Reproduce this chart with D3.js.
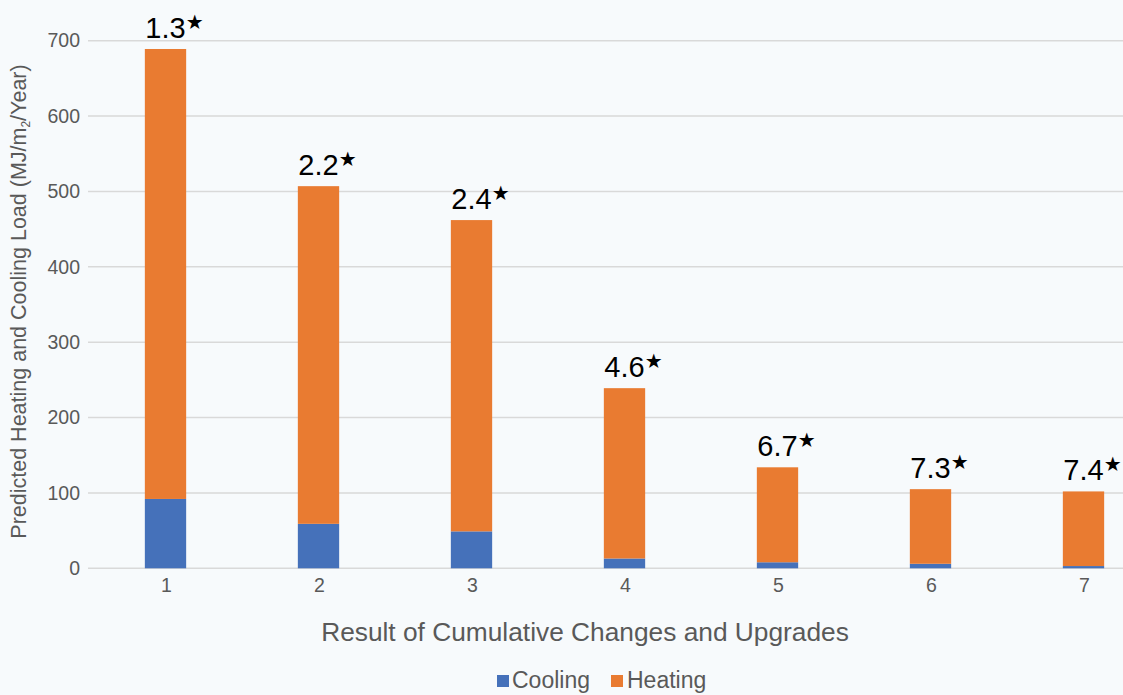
<!DOCTYPE html>
<html>
<head>
<meta charset="utf-8">
<script src="https://cdn.jsdelivr.net/npm/d3@7"></script>
<style>
  html, body { margin: 0; padding: 0; background: #F7FAFC; }
  svg { display: block; }
  text { font-family: "Liberation Sans", Arial, sans-serif; }
</style>
</head>
<body>
<svg id="chart" width="1123" height="695"></svg>
<script>
// ---- Data ----
const categories = ["1", "2", "3", "4", "5", "6", "7"];
const cooling = [92, 59, 49, 13, 8, 6, 3];
const heating = [597, 448, 413, 226, 126, 99, 99];
const ratioLabels = ["1.3", "2.2", "2.4", "4.6", "6.7", "7.3", "7.4"];
const yTicks = [0, 100, 200, 300, 400, 500, 600, 700];
const seriesNames = ["Cooling", "Heating"];
const seriesColors = ["#4571BA", "#E97B31"];

// ---- Layout ----
const W = 1123, H = 695;
const svg = d3.select("#chart");
svg.append("rect").attr("width", W).attr("height", H).attr("fill", "#F7FAFC");

const plotLeft = 89, plotRight = 1160, plotTop = 40.7, plotBottom = 568.3;

const x = d3.scaleBand()
  .domain(categories)
  .range([plotLeft, plotRight])
  .paddingInner(0.73)
  .paddingOuter(0.365);

const y = d3.scaleLinear().domain([0, 700]).range([plotBottom, plotTop]);

// gridlines
svg.append("g").selectAll("line")
  .data(yTicks)
  .join("line")
  .attr("x1", 88).attr("x2", W)
  .attr("y1", d => y(d)).attr("y2", d => y(d))
  .attr("stroke", "#D9D9D9").attr("stroke-width", 1.5);

// y axis labels
const yAxis = d3.axisLeft(y).tickValues(yTicks).tickSize(0).tickPadding(0);
const yg = svg.append("g").attr("transform", "translate(80,0)").call(yAxis);
yg.select(".domain").remove();
yg.selectAll("text")
  .attr("fill", "#595959")
  .style("font-size", "19.5px")
  .style("font-family", "'Liberation Sans', Arial, sans-serif");

// x axis labels
const xAxis = d3.axisBottom(x).tickSize(0).tickPadding(0);
const xg = svg.append("g").attr("transform", "translate(1,577)").call(xAxis);
xg.select(".domain").remove();
xg.selectAll("text")
  .attr("fill", "#595959")
  .attr("dy", "0.76em")
  .style("font-size", "19.5px")
  .style("font-family", "'Liberation Sans', Arial, sans-serif");

// stacked bars
const rows = categories.map((c, i) => ({ cat: c, Cooling: cooling[i], Heating: heating[i] }));
const stack = d3.stack().keys(seriesNames)(rows);

svg.append("g").selectAll("g")
  .data(stack)
  .join("g")
  .attr("fill", (d, i) => seriesColors[i])
  .selectAll("rect")
  .data(d => d)
  .join("rect")
  .attr("x", d => x(d.data.cat))
  .attr("width", x.bandwidth())
  .attr("y", d => y(d[1]))
  .attr("height", d => y(d[0]) - y(d[1]));

// value labels with star
const lbl = svg.append("g");
categories.forEach((c, i) => {
  const total = cooling[i] + heating[i];
  const cx = x(c) + x.bandwidth() / 2;
  const by = y(total) - 11;
  const t = lbl.append("text")
    .attr("x", cx)
    .attr("y", by)
    .attr("text-anchor", "middle")
    .attr("fill", "#000")
    .style("font-size", "29px")
    .text(ratioLabels[i]);
  const w = t.node().getComputedTextLength();
  lbl.append("text")
    .attr("x", cx + w / 2)
    .attr("y", by - 9)
    .attr("fill", "#000")
    .style("font-family", "'DejaVu Sans', sans-serif")
    .style("font-size", "20px")
    .text("\u2605");
});

// y axis title
const yt = svg.append("text")
  .attr("transform", "translate(26,301.5) rotate(-90)")
  .attr("text-anchor", "middle")
  .attr("fill", "#595959")
  .style("font-size", "21.5px");
yt.append("tspan").text("Predicted Heating and Cooling Load (MJ/m");
yt.append("tspan").attr("dy", 4).style("font-size", "12px").text("2");
yt.append("tspan").attr("dy", -4).text("/Year)");

// x axis title
svg.append("text")
  .attr("x", 585)
  .attr("y", 640.5)
  .attr("text-anchor", "middle")
  .attr("fill", "#595959")
  .style("font-size", "26.3px")
  .text("Result of Cumulative Changes and Upgrades");

// legend
const legendItems = [
  { name: seriesNames[0], color: seriesColors[0], sx: 497, tx: 512 },
  { name: seriesNames[1], color: seriesColors[1], sx: 611, tx: 627 }
];
const lg = svg.append("g");
legendItems.forEach(d => {
  lg.append("rect").attr("x", d.sx).attr("y", 675).attr("width", 12).attr("height", 12).attr("fill", d.color);
  lg.append("text").attr("x", d.tx).attr("y", 687.5).attr("fill", "#595959").style("font-size", "23px").text(d.name);
});
</script>
</body>
</html>
